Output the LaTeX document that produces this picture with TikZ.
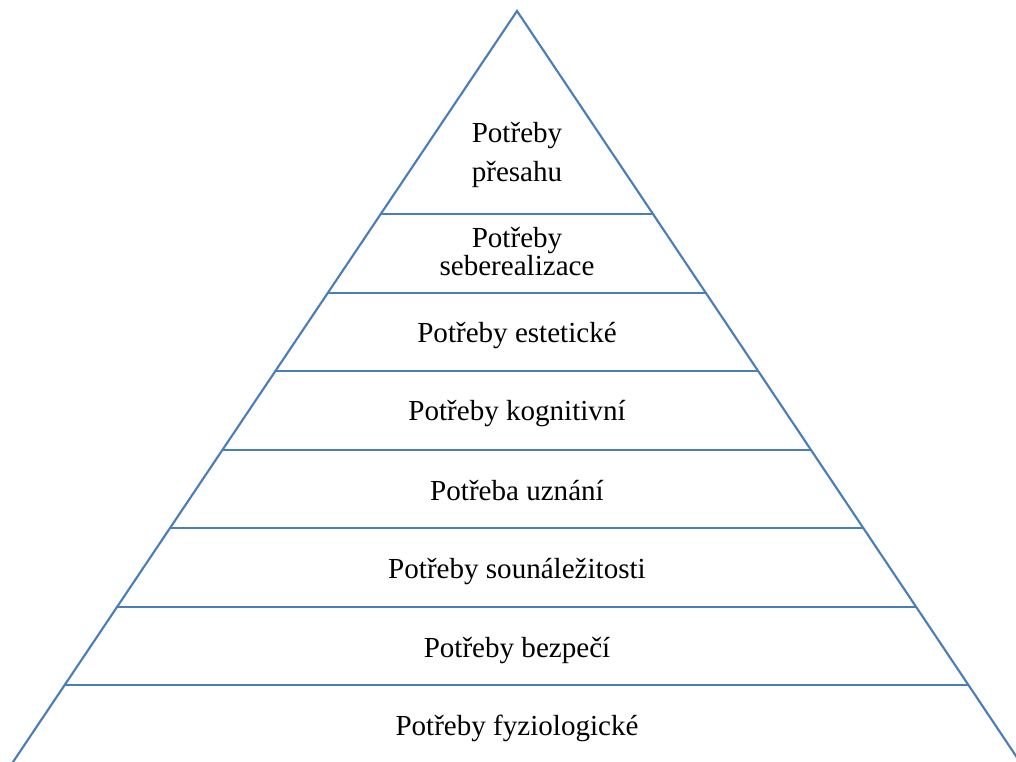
\documentclass[tikz,border=0pt]{standalone}
\usepackage{fontspec}
\setmainfont{Liberation Serif}
\usetikzlibrary{calc}
\definecolor{pyrline}{RGB}{74,126,187}
\begin{document}
\begin{tikzpicture}[x=0.75pt,y=-0.75pt,
  edge/.style={draw=pyrline,line width=1.6pt,line cap=round},
  lab/.style={anchor=base,inner sep=0pt,font=\fontsize{21.8}{28}\selectfont}]
\useasboundingbox (0,0) rectangle (1016,762);
\clip (0,0) rectangle (1016,762);
\coordinate (apex) at (517,11);
\coordinate (bl) at (13,762);
\coordinate (br) at (1020,762);
\draw[edge,line join=miter] (bl) -- (apex) -- (br);
\foreach \yy/\nm in {214/a,293/b,371/c,450/d,528/e,607/f,685/g}{
  \pgfmathsetmacro{\tt}{(\yy-11)/751}
  \coordinate (l\nm) at ($(apex)!\tt!(bl)$);
  \coordinate (r\nm) at ($(apex)!\tt!(br)$);
  \draw[edge] (l\nm) -- (r\nm);
}
\node[lab] (t1a) at (517,143) {Potřeby};
\node[lab] (t1b) at (517,182) {přesahu};
\node[lab] (t2a) at (517,248) {Potřeby};
\node[lab] (t2b) at (517,276) {seberealizace};
\node[lab] (t3) at (517,343) {Potřeby estetické};
\node[lab] (t4) at (517,421) {Potřeby kognitivní};
\node[lab] (t5) at (517,500) {Potřeba uznání};
\node[lab] (t6) at (517,578) {Potřeby sounáležitosti};
\node[lab] (t7) at (517,657) {Potřeby bezpečí};
\node[lab] (t8) at (517,735) {Potřeby fyziologické};
\end{tikzpicture}
\end{document}
